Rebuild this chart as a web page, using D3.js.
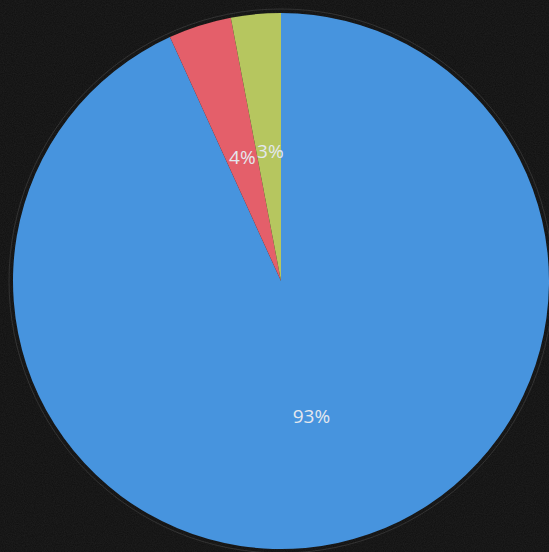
<!DOCTYPE html>
<html>
<head>
<meta charset="utf-8">
<script src="https://cdn.jsdelivr.net/npm/d3@7"></script>
<style>
  html, body { margin: 0; padding: 0; background: #101010; }
  svg { display: block; }
</style>
</head>
<body>
<script>
// slice data (clockwise from 12 o'clock)
var categories = ["A", "B", "C"];
var values = [93.2, 3.8, 3.0];
var labels = ["93%", "4%", "3%"];
var colors = ["#4794de", "#e45f6a", "#b6c65f"];

var w = 549, h = 552;
var cx = 281, cy = 281, r = 268;

var svg = d3.select("body")
    .append("svg")
    .attr("width", w)
    .attr("height", h);

// dark textured background
var defs = svg.append("defs");
var f = defs.append("filter").attr("id", "grain");
f.append("feTurbulence")
    .attr("type", "fractalNoise")
    .attr("baseFrequency", 0.9)
    .attr("numOctaves", 2)
    .attr("seed", 3);
f.append("feColorMatrix")
    .attr("values", "0 0 0 0 1  0 0 0 0 1  0 0 0 0 1  0 0 0 0.07 0");

svg.append("rect")
    .attr("width", w)
    .attr("height", h)
    .attr("fill", "#0f0f0f");
svg.append("rect")
    .attr("width", w)
    .attr("height", h)
    .attr("filter", "url(#grain)");

var g = svg.append("g")
    .attr("transform", "translate(" + cx + "," + cy + ")");

// faint rim around the pie
g.append("circle")
    .attr("r", r + 4)
    .attr("fill", "none")
    .attr("stroke", "#9a9a9a")
    .attr("stroke-opacity", 0.2)
    .attr("stroke-width", 1);

var data = categories.map(function (c, i) {
    return { name: c, value: values[i], label: labels[i] };
});

var pie = d3.pie()
    .sort(null)
    .value(function (d) { return d.value; });

var arc = d3.arc()
    .innerRadius(0)
    .outerRadius(r);

var color = d3.scaleOrdinal()
    .domain(categories)
    .range(colors);

var arcs = pie(data);

g.selectAll("path.slice")
    .data(arcs)
    .enter()
    .append("path")
    .attr("class", "slice")
    .attr("d", arc)
    .attr("fill", function (d) { return color(d.data.name); });

g.selectAll("text.lbl")
    .data(arcs)
    .enter()
    .append("text")
    .attr("class", "lbl")
    .attr("transform", function (d) {
        var c = arc.centroid(d);
        return "translate(" + (c[0] + 2) + "," + (c[1] + 4) + ")";
    })
    .attr("text-anchor", "middle")
    .attr("dy", "0.35em")
    .style("font-family", "'Open Sans', sans-serif")
    .style("font-size", "19px")
    .style("fill", "#e4e8ee")
    .text(function (d) { return d.data.label; });
</script>
</body>
</html>
